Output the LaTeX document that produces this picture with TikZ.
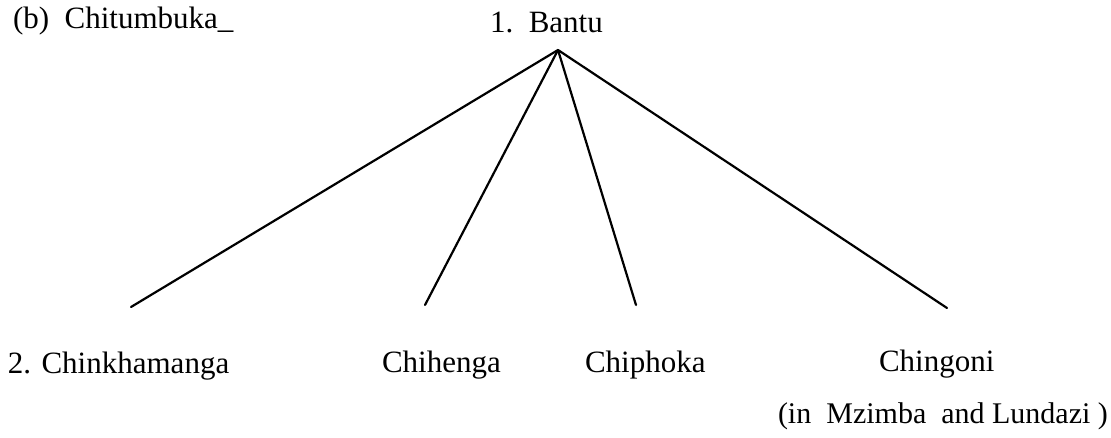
\documentclass[tikz,border=0pt]{standalone}
\usepackage{fontspec}
\setmainfont{Liberation Serif}
\tikzset{
  lbl/.style={anchor=base west, inner sep=0pt, outer sep=0pt, font=\fontsize{31}{36}\selectfont},
  branch/.style={line width=2.2pt, line cap=round}
}
\begin{document}
\begin{tikzpicture}[x=1pt, y=-1pt]
  \useasboundingbox (0,0) rectangle (1111,438);
  % heading and root
  \node[lbl] (title) at (13,29) {(b)\ \ Chitumbuka\_};
  \node[lbl] (root) at (490,33) {1.\ \ Bantu};
  % branch ends
  \coordinate (apex) at (558,50);
  \coordinate (e1) at (131,307);
  \coordinate (e2) at (425,305);
  \coordinate (e3) at (636,305);
  \coordinate (e4) at (947,308);
  \foreach \e in {e1,e2,e3,e4} \draw[branch] (apex) -- (\e);
  % leaves
  \node[lbl] (chink) at (8,373) {2. Chinkhamanga};
  \node[lbl] (chih) at (382,372) {Chihenga};
  \node[lbl] (chip) at (585,372) {Chiphoka};
  \node[lbl] (ching) at (879,371) {Chingoni};
  \node[lbl, font=\fontsize{30}{36}\selectfont] (loc) at (778,423) {(in\ \ Mzimba\ \ and Lundazi )};
\end{tikzpicture}
\end{document}
